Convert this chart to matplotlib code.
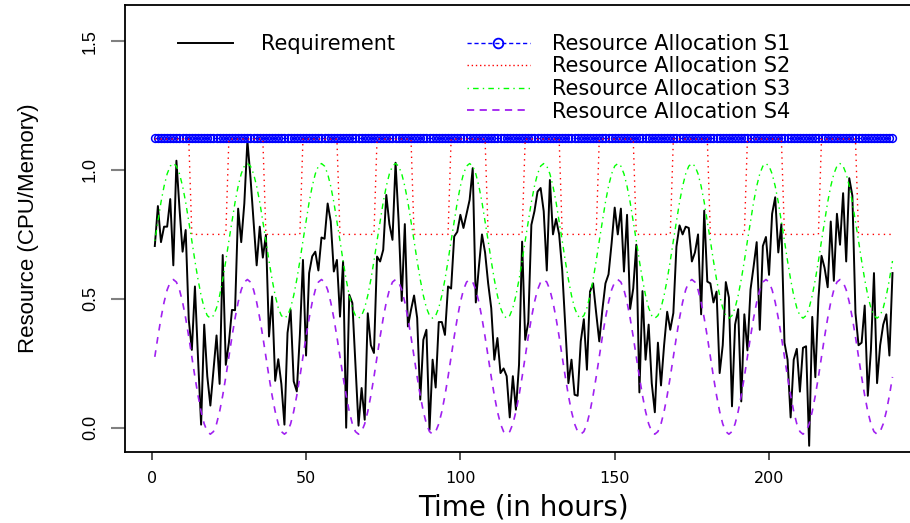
import numpy as np
import matplotlib
matplotlib.use("Agg")
import matplotlib.pyplot as plt
from matplotlib.lines import Line2D

# hourly requirement (hours 1..240)
requirement = [
    0.705, 0.86, 0.72, 0.78, 0.78, 0.887, 0.63, 1.036, 0.85, 0.683,
    0.767, 0.419, 0.302, 0.548, 0.27, 0.012, 0.40, 0.20, 0.086, 0.22,
    0.358, 0.17, 0.67, 0.244, 0.33, 0.457, 0.456, 0.85, 0.72, 0.87,
    1.114, 0.97, 0.80, 0.63, 0.78, 0.66, 0.748, 0.354, 0.509, 0.182,
    0.266, 0.17, 0.012, 0.368, 0.457, 0.18, 0.141, 0.36, 0.651, 0.28,
    0.60, 0.665, 0.683, 0.61, 0.738, 0.733, 0.87, 0.80, 0.606, 0.651,
    0.431, 0.645, 0.0, 0.516, 0.484, 0.25, 0.008, 0.154, 0.031, 0.444,
    0.32, 0.29, 0.664, 0.645, 0.69, 0.903, 0.79, 0.729, 1.028, 0.80,
    0.492, 0.79, 0.393, 0.457, 0.513, 0.426, 0.109, 0.341, 0.38, -0.008,
    0.264, 0.156, 0.41, 0.41, 0.36, 0.548, 0.54, 0.742, 0.76, 0.826,
    0.775, 0.83, 0.884, 1.007, 0.486, 0.625, 0.75, 0.68, 0.56, 0.464,
    0.264, 0.348, 0.212, 0.23, 0.2, 0.04, 0.2, 0.07, 0.244, 0.722,
    0.341, 0.41, 0.787, 0.84, 0.916, 0.93, 0.84, 0.61, 0.961, 0.75,
    0.81, 0.75, 0.61, 0.393, 0.173, 0.264, 0.128, 0.124, 0.335, 0.421,
    0.225, 0.528, 0.56, 0.445, 0.335, 0.457, 0.56, 0.595, 0.716, 0.854,
    0.75, 0.85, 0.606, 0.826, 0.461, 0.54, 0.71, 0.137, 0.53, 0.264,
    0.40, 0.173, 0.06, 0.33, 0.164, 0.32, 0.45, 0.38, 0.445, 0.703,
    0.785, 0.75, 0.78, 0.775, 0.645, 0.68, 0.75, 0.44, 0.842, 0.567,
    0.56, 0.486, 0.528, 0.212, 0.32, 0.565, 0.505, 0.083, 0.40, 0.46,
    0.102, 0.44, 0.30, 0.536, 0.625, 0.72, 0.38, 0.705, 0.74, 0.593,
    0.83, 0.894, 0.68, 0.79, 0.33, 0.264, 0.04, 0.264, 0.306, 0.14,
    0.31, 0.316, -0.07, 0.43, 0.196, 0.50, 0.667, 0.62, 0.545, 0.80,
    0.57, 0.83, 0.71, 0.91, 0.645, 0.968, 0.90, 0.445, 0.32, 0.33,
    0.474, 0.124, 0.30, 0.60, 0.173, 0.32, 0.40, 0.44, 0.28, 0.60,
]

# allocation schemes: S1 flat, S2-S4 repeat the same daily (24 h) cycle
s1_level = 1.125
s2_day = [1.12] * 12 + [0.75] * 12
s3_day = [0.725, 0.80, 0.875, 0.937, 0.985, 1.015, 1.025, 1.015, 0.985, 0.937,
          0.875, 0.80, 0.725, 0.647, 0.575, 0.513, 0.465, 0.435, 0.425, 0.435,
          0.465, 0.513, 0.575, 0.647]
s4_day = [0.275, 0.353, 0.425, 0.487, 0.535, 0.565, 0.575, 0.565, 0.535, 0.487,
          0.425, 0.353, 0.275, 0.197, 0.125, 0.063, 0.015, -0.015, -0.025, -0.015,
          0.015, 0.063, 0.125, 0.197]
n_days = 10

hours = np.arange(1, len(requirement) + 1)
s1 = [s1_level] * len(hours)
s2 = np.tile(s2_day, n_days)
s3 = np.tile(s3_day, n_days)
s4 = np.tile(s4_day, n_days)

narrow = ['Liberation Sans', 'DejaVu Sans']
plt.rcParams['font.family'] = ['DejaVu Sans']

fig = plt.figure(figsize=(9.1, 5.23), dpi=100)
ax = fig.add_axes([125.3 / 910, 71.3 / 523, 796.7 / 910, 446.7 / 523])

ax.plot(hours, requirement, color='black', lw=1.4)
ax.plot(hours, s1, color='blue', ls=(0, (4, 3)), lw=1.0, marker='o',
        markersize=5.6, markerfacecolor='none', markeredgecolor='blue', markeredgewidth=1.1)
ax.plot(hours, s2, color='red', ls=(0, (1, 3)), lw=1.0)
ax.plot(hours, s3, color='#00ff00', ls=(0, (1, 3, 4, 3)), lw=1.0)
ax.plot(hours, s4, color='#a020f0', ls=(0, (4, 4)), lw=1.2)

ax.set_xlim(-8.56, 249.56)
ax.set_ylim(-0.093, 1.64)
ax.set_xticks([0, 50, 100, 150, 200])
ax.set_yticks([0.0, 0.5, 1.0, 1.5])
ax.set_yticklabels(['0.0', '0.5', '1.0', '1.5'])
for sp in ax.spines.values():
    sp.set_linewidth(1.3)

ax.tick_params(axis='x', length=6, width=1.2, color='#333333', pad=8, labelsize=11.5)
ax.tick_params(axis='y', length=10, width=1.5, color='#808080', pad=9, labelsize=13)
for lab in ax.get_yticklabels():
    lab.set_rotation(90)
    lab.set_va('center')
    lab.set_family(narrow)

ax.set_xlabel('Time (in hours)', fontsize=20)
ax.xaxis.set_label_coords(0.5, -0.126)
ax.xaxis.label.set_va('center')
ax.set_ylabel('Resource (CPU/Memory)', fontsize=16, family=narrow)
ax.yaxis.set_label_coords(-0.122, 0.5)
ax.yaxis.label.set_va('center')

# two legends so each column can sit where it does in the original
leg_fs = 15
top_px = 34
h_req = [Line2D([], [], color='black', lw=1.4)]
fig.legend(h_req, ['Requirement'], loc='upper left',
           bbox_to_anchor=(178 / 910, 1 - top_px / 523), frameon=False,
           fontsize=leg_fs, handlelength=2.64, handletextpad=1.35,
           borderpad=0, borderaxespad=0)
h_alloc = [
    Line2D([], [], color='blue', ls=(0, (3, 2)), lw=1.0, marker='o', markersize=7,
           markerfacecolor='none', markeredgewidth=1.3),
    Line2D([], [], color='red', ls=(0, (1, 2)), lw=1.0),
    Line2D([], [], color='#00ff00', ls=(0, (1, 3, 4, 3)), lw=1.0),
    Line2D([], [], color='#a020f0', ls=(0, (4, 3)), lw=1.3),
]
labels = ['Resource Allocation S1', 'Resource Allocation S2',
          'Resource Allocation S3', 'Resource Allocation S4']
fig.legend(h_alloc, labels, loc='upper left',
           bbox_to_anchor=(467 / 910, 1 - top_px / 523), frameon=False,
           fontsize=leg_fs, handlelength=3.0, handletextpad=1.06, numpoints=1,
           labelspacing=0.12, borderpad=0, borderaxespad=0)

fig.savefig('out.png', dpi=100)
